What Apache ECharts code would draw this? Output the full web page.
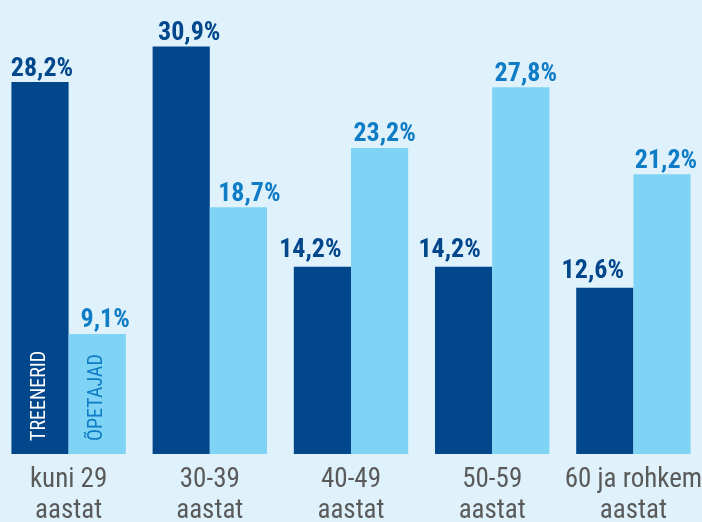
<!DOCTYPE html>
<html>
<head>
<meta charset="utf-8">
<script src="https://cdn.jsdelivr.net/npm/echarts@6/dist/echarts.min.js"></script>
<style>
html,body{margin:0;padding:0;background:#dff2fc;}
#c{width:702px;height:522px;}
</style>
</head>
<body>
<div id="c"></div>
<script>
var categories = ['kuni 29\naastat', '30-39\naastat', '40-49\naastat', '50-59\naastat', '60 ja rohkem\naastat'];
var seriesNames = ['TREENERID', 'ÕPETAJAD'];
var treenerid = [28.2, 30.9, 14.2, 14.2, 12.6];
var opetajad = [9.1, 18.7, 23.2, 27.8, 21.2];

// label placement nudges (style only), as in the reference layout
var treeneridLabelNudge = [[2, 0], [8, 0], [-12, -3], [-14, -3], [-12, -3]];
var opetajadLabelNudge = [[8, 0], [11, 0], [5, 0], [5, 0], [4, 0]];

var FONT = "'Roboto Condensed', 'Liberation Sans Narrow', Roboto, sans-serif";
var fmt = function (p) { return p.value.toFixed(1).replace('.', ',') + '%'; };

function build(values, name, color, labelColor, nudge) {
  return {
    name: name,
    type: 'bar',
    barGap: '0%',
    barCategoryGap: '19%',
    itemStyle: { color: color },
    label: {
      show: true, position: 'top', distance: 0,
      formatter: fmt, color: labelColor,
      fontFamily: FONT, fontWeight: 'bold', fontSize: 26
    },
    data: values.map(function (v, i) {
      return { value: v, label: { offset: nudge[i] } };
    })
  };
}
function nameSeries(values, name, innerColor) {
  return {
    name: name + '_label',
    type: 'bar',
    xAxisIndex: 1,
    barGap: '0%',
    barCategoryGap: '19%',
    silent: true,
    itemStyle: { color: 'rgba(0,0,0,0)' },
    label: {
      show: true, position: 'insideBottom', rotate: 90,
      align: 'left', verticalAlign: 'middle', distance: 13,
      formatter: name, color: innerColor,
      fontFamily: FONT, fontWeight: 'normal', fontSize: 20
    },
    data: values.map(function (v, i) { return i === 0 ? v : '-'; })
  };
}

var chart = echarts.init(document.getElementById('c'));
chart.setOption({
  backgroundColor: '#dff2fc',
  animation: false,
  grid: { left: -2, right: -2, top: 5.5, bottom: 68, containLabel: false, outerBoundsMode: 'none' },
  xAxis: [{
    type: 'category', data: categories,
    axisLine: { show: false }, axisTick: { show: false },
    axisLabel: { color: '#5a5a5a', fontFamily: FONT, fontSize: 27, lineHeight: 31, margin: 11, interval: 0 }
  }, {
    type: 'category', data: categories, show: false
  }],
  yAxis: { type: 'value', min: 0, max: 34, show: false, splitLine: { show: false } },
  series: [
    build(treenerid, seriesNames[0], '#02468c', '#02468c', treeneridLabelNudge),
    build(opetajad, seriesNames[1], '#7fd3f5', '#0f7cc6', opetajadLabelNudge),
    nameSeries(treenerid, seriesNames[0], '#ffffff'),
    nameSeries(opetajad, seriesNames[1], '#0f7cc6')
  ]
});
</script>
</body>
</html>
